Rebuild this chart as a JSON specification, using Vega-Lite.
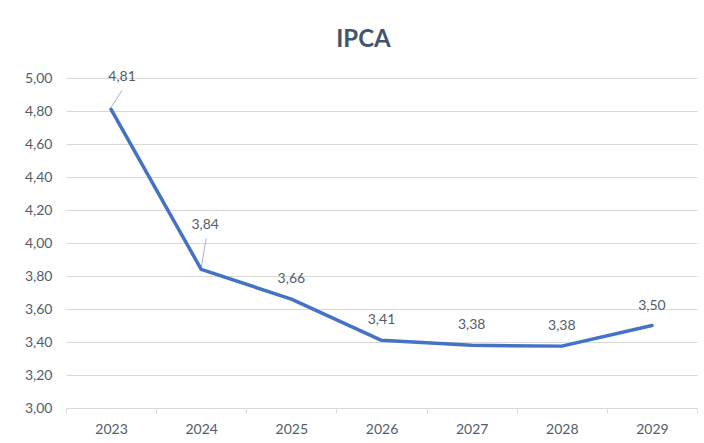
{
  "$schema": "https://vega.github.io/schema/vega-lite/v6.json",
  "width": 631,
  "height": 330,
  "autosize": {"type": "none"},
  "padding": {"left": 66, "top": 78, "right": 7, "bottom": 35},
  "background": "white",
  "config": {
    "locale": {"number": {"decimal": ",", "thousands": ".", "grouping": [3], "currency": ["R$", ""]}},
    "view": {"stroke": null},
    "font": "Lato"
  },
  "title": {"text": "IPCA", "fontSize": 24, "fontWeight": "bold", "color": "#44546A", "anchor": "middle", "frame": "group", "dx": -18, "offset": 18, "font": "Lato"},
  "data": {"values": [
    {"year": "2023", "ipca": 4.81},
    {"year": "2024", "ipca": 3.84},
    {"year": "2025", "ipca": 3.66},
    {"year": "2026", "ipca": 3.41},
    {"year": "2027", "ipca": 3.38},
    {"year": "2028", "ipca": 3.375},
    {"year": "2029", "ipca": 3.50}
  ]},
  "encoding": {
    "x": {"field": "year", "type": "ordinal", "bandPosition": 0.5,
      "scale": {"type": "band", "paddingInner": 0, "paddingOuter": 0},
      "axis": {"title": null, "labelAngle": 0, "labelFontSize": 14, "labelColor": "#525D6C", "labelPadding": 9,
        "domainColor": "#D9D9D9", "domainWidth": 1, "tickColor": "#D9D9D9", "tickSize": 5, "tickBand": "extent", "grid": false}},
    "y": {"field": "ipca", "type": "quantitative",
      "scale": {"domain": [3, 5], "nice": false, "zero": false},
      "axis": {"title": null, "values": [3, 3.2, 3.4, 3.6, 3.8, 4, 4.2, 4.4, 4.6, 4.8, 5], "format": ".2f",
        "labelFontSize": 14, "labelColor": "#525D6C", "labelPadding": 14, "ticks": false, "tickSize": 0, "domain": false,
        "grid": true, "gridColor": "#D9D9D9", "gridWidth": 1}}
  },
  "layer": [
    {"mark": {"type": "rule", "color": "#A9B3C1", "strokeWidth": 1, "xOffset": 0, "yOffset": -2, "x2Offset": 11, "y2Offset": -19},
     "transform": [{"filter": "datum.year == '2023'"}],
     "encoding": {"x2": {"field": "year", "bandPosition": 0.5}, "y2": {"field": "ipca"}}},
    {"mark": {"type": "rule", "color": "#A9B3C1", "strokeWidth": 1, "xOffset": 0, "yOffset": -2, "x2Offset": 5, "y2Offset": -31},
     "transform": [{"filter": "datum.year == '2024'"}],
     "encoding": {"x2": {"field": "year", "bandPosition": 0.5}, "y2": {"field": "ipca"}}},
    {"mark": {"type": "line", "color": "#4472C4", "strokeWidth": 3.5, "strokeCap": "round", "strokeJoin": "round"}},
    {"mark": {"type": "text", "fontSize": 14, "color": "#525D6C", "dy": -20, "baseline": "middle"},
     "transform": [{"filter": "datum.year != '2023' && datum.year != '2024'"}],
     "encoding": {"text": {"field": "ipca", "type": "quantitative", "format": ".2f"}}},
    {"mark": {"type": "text", "fontSize": 14, "color": "#525D6C", "dx": 11, "dy": -32, "baseline": "middle"},
     "transform": [{"filter": "datum.year == '2023'"}],
     "encoding": {"text": {"field": "ipca", "type": "quantitative", "format": ".2f"}}},
    {"mark": {"type": "text", "fontSize": 14, "color": "#525D6C", "dx": 4, "dy": -44, "baseline": "middle"},
     "transform": [{"filter": "datum.year == '2024'"}],
     "encoding": {"text": {"field": "ipca", "type": "quantitative", "format": ".2f"}}}
  ]
}
